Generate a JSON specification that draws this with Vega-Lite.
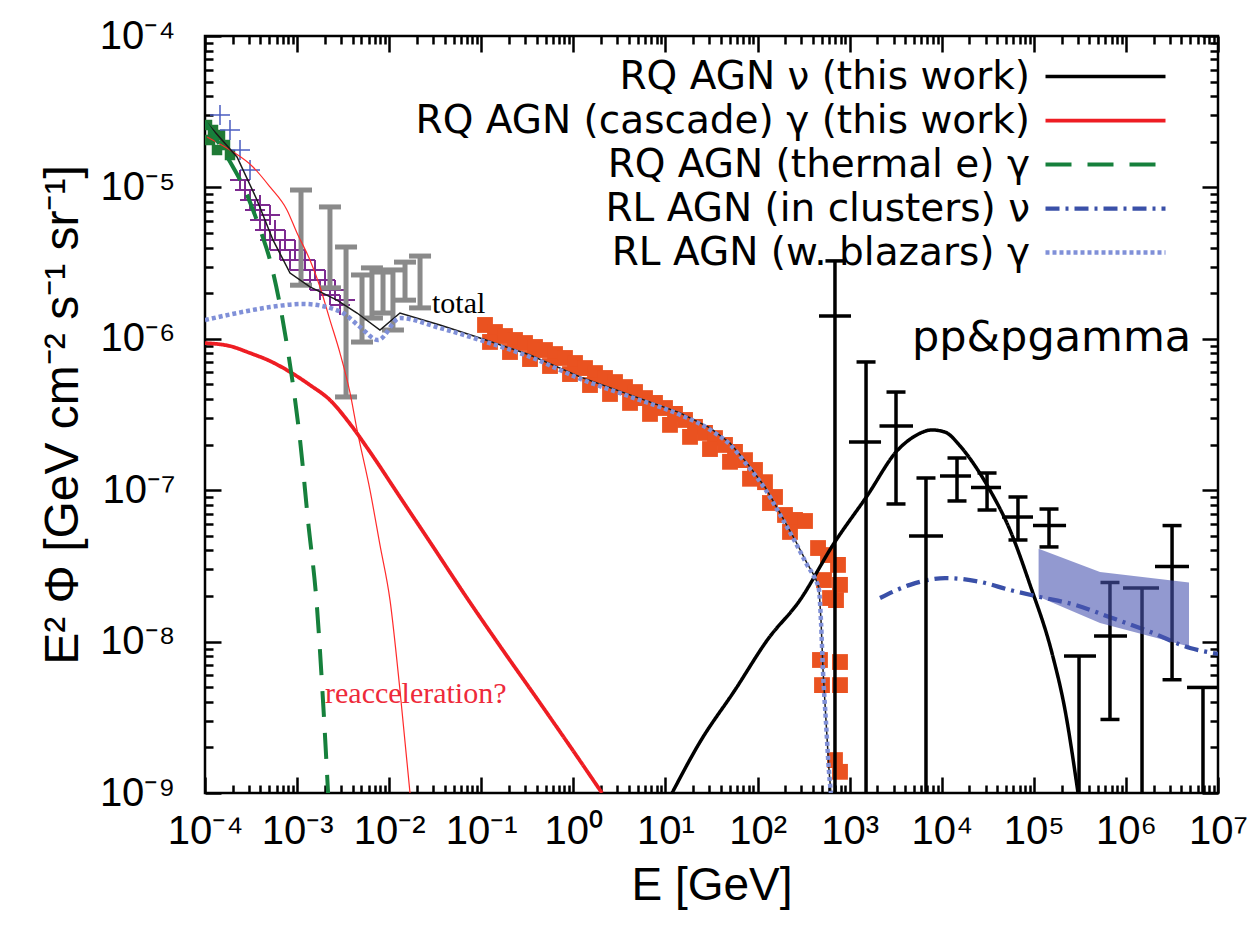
{
  "$schema": "https://vega.github.io/schema/vega-lite/v6.json",
  "width": 1013,
  "height": 757,
  "autosize": {"type": "none"},
  "padding": {"left": 205, "top": 36, "right": 33, "bottom": 132},
  "background": "white",
  "config": {"view": {"stroke": "#000", "strokeWidth": 2.5}},
  "datasets": {
    "green": [
      {"E": 1.051e-4, "F": 2.583e-5}, {"E": 1.221e-4, "F": 2.394e-5}, {"E": 1.133e-4, "F": 2.056e-5},
      {"E": 1.455e-4, "F": 2.219e-5}, {"E": 1.649e-4, "F": 1.905e-5}, {"E": 1.35e-4, "F": 1.766e-5},
      {"E": 1.868e-4, "F": 1.637e-5}
    ],
    "blue": [
      {"E": 1.455e-4, "Elo": 1.133e-4, "Ehi": 1.868e-4, "F": 3.008e-5, "Flo": 2.583e-5, "Fhi": 3.502e-5},
      {"E": 1.868e-4, "Elo": 1.455e-4, "Ehi": 2.4e-4, "F": 2.394e-5, "Flo": 2.056e-5, "Fhi": 2.787e-5},
      {"E": 2.4e-4, "Elo": 1.868e-4, "Ehi": 3.083e-4, "F": 1.766e-5, "Flo": 1.517e-5, "Fhi": 2.056e-5},
      {"E": 3.083e-4, "Elo": 2.4e-4, "Ehi": 3.955e-4, "F": 1.303e-5, "Flo": 1.119e-5, "Fhi": 1.517e-5}
    ],
    "purple": [
      {"E": 2.4e-4, "Elo": 1.868e-4, "Ehi": 3.083e-4, "F": 1.119e-5, "Flo": 9.612e-6, "Fhi": 1.303e-5},
      {"E": 2.719e-4, "Elo": 2.118e-4, "Ehi": 3.491e-4, "F": 9.612e-6, "Flo": 8.254e-6, "Fhi": 1.119e-5},
      {"E": 3.083e-4, "Elo": 2.4e-4, "Ehi": 3.955e-4, "F": 8.254e-6, "Flo": 7.091e-6, "Fhi": 9.612e-6},
      {"E": 3.491e-4, "Elo": 2.719e-4, "Ehi": 4.482e-4, "F": 7.091e-6, "Flo": 6.091e-6, "Fhi": 8.254e-6},
      {"E": 3.955e-4, "Elo": 3.083e-4, "Ehi": 5.079e-4, "F": 7.65e-6, "Flo": 6.572e-6, "Fhi": 8.907e-6},
      {"E": 3.955e-4, "Elo": 3.083e-4, "Ehi": 5.079e-4, "F": 6.091e-6, "Flo": 5.231e-6, "Fhi": 7.091e-6},
      {"E": 4.482e-4, "Elo": 3.491e-4, "Ehi": 5.756e-4, "F": 5.231e-6, "Flo": 4.494e-6, "Fhi": 6.091e-6},
      {"E": 5.079e-4, "Elo": 3.955e-4, "Ehi": 6.523e-4, "F": 6.572e-6, "Flo": 5.645e-6, "Fhi": 7.65e-6},
      {"E": 5.079e-4, "Elo": 3.955e-4, "Ehi": 6.523e-4, "F": 4.494e-6, "Flo": 3.859e-6, "Fhi": 5.231e-6},
      {"E": 5.756e-4, "Elo": 4.482e-4, "Ehi": 7.391e-4, "F": 5.231e-6, "Flo": 4.494e-6, "Fhi": 6.091e-6},
      {"E": 6.523e-4, "Elo": 5.079e-4, "Ehi": 8.375e-4, "F": 3.859e-6, "Flo": 3.315e-6, "Fhi": 4.494e-6},
      {"E": 7.391e-4, "Elo": 5.756e-4, "Ehi": 9.491e-4, "F": 4.494e-6, "Flo": 3.859e-6, "Fhi": 5.231e-6},
      {"E": 8.375e-4, "Elo": 6.523e-4, "Ehi": 1.0755e-3, "F": 3.315e-6, "Flo": 2.847e-6, "Fhi": 3.859e-6},
      {"E": 9.491e-4, "Elo": 7.391e-4, "Ehi": 1.219e-3, "F": 3.859e-6, "Flo": 3.315e-6, "Fhi": 4.494e-6},
      {"E": 1.0755e-3, "Elo": 8.375e-4, "Ehi": 1.381e-3, "F": 2.847e-6, "Flo": 2.445e-6, "Fhi": 3.315e-6},
      {"E": 1.219e-3, "Elo": 9.491e-4, "Ehi": 1.565e-3, "F": 3.315e-6, "Flo": 2.847e-6, "Fhi": 3.859e-6},
      {"E": 1.381e-3, "Elo": 1.0755e-3, "Ehi": 1.774e-3, "F": 2.445e-6, "Flo": 2.1e-6, "Fhi": 2.847e-6},
      {"E": 1.565e-3, "Elo": 1.219e-3, "Ehi": 2.01e-3, "F": 2.847e-6, "Flo": 2.445e-6, "Fhi": 3.315e-6},
      {"E": 1.774e-3, "Elo": 1.381e-3, "Ehi": 2.277e-3, "F": 2.1e-6, "Flo": 1.804e-6, "Fhi": 2.445e-6},
      {"E": 2.01e-3, "Elo": 1.565e-3, "Ehi": 2.58e-3, "F": 2.445e-6, "Flo": 2.1e-6, "Fhi": 2.847e-6},
      {"E": 2.277e-3, "Elo": 1.774e-3, "Ehi": 2.924e-3, "F": 1.946e-6, "Flo": 1.672e-6, "Fhi": 2.266e-6},
      {"E": 2.58e-3, "Elo": 2.01e-3, "Ehi": 3.314e-3, "F": 2.1e-6, "Flo": 1.804e-6, "Fhi": 2.445e-6},
      {"E": 2.924e-3, "Elo": 2.277e-3, "Ehi": 3.755e-3, "F": 1.672e-6, "Flo": 1.436e-6, "Fhi": 1.946e-6},
      {"E": 3.314e-3, "Elo": 2.58e-3, "Ehi": 4.255e-3, "F": 1.804e-6, "Flo": 1.549e-6, "Fhi": 2.1e-6}
    ],
    "gray": [
      {"E": 1.103e-3, "lo": 2.26e-6, "hi": 9.61e-6},
      {"E": 2.275e-3, "lo": 2.17e-6, "hi": 7.43e-6},
      {"E": 3.4e-3, "lo": 4.13e-7, "hi": 4.04e-6},
      {"E": 5.07e-3, "lo": 9.52e-7, "hi": 2.64e-6},
      {"E": 6.5e-3, "lo": 1.371e-6, "hi": 2.94e-6},
      {"E": 8.57e-3, "lo": 1.48e-6, "hi": 2.76e-6},
      {"E": 1.099e-2, "lo": 1.143e-6, "hi": 2.85e-6},
      {"E": 1.486e-2, "lo": 1.8e-6, "hi": 3.21e-6},
      {"E": 2.163e-2, "lo": 1.6e-6, "hi": 3.52e-6}
    ],
    "orange": [
      {"E": 0.1098, "F": 1.234e-6}, {"E": 0.1409, "F": 1.109e-6}, {"E": 0.181, "F": 1.043e-6},
      {"E": 0.2324, "F": 9.82e-7}, {"E": 0.2985, "F": 9.38e-7}, {"E": 0.3833, "F": 8.83e-7},
      {"E": 0.492, "F": 8.43e-7}, {"E": 0.632, "F": 7.93e-7}, {"E": 0.811, "F": 7.47e-7},
      {"E": 1.042, "F": 6.92e-7}, {"E": 1.338, "F": 6.41e-7}, {"E": 1.718, "F": 5.94e-7},
      {"E": 2.206, "F": 5.51e-7}, {"E": 2.833, "F": 5.18e-7}, {"E": 3.638, "F": 4.8e-7},
      {"E": 4.672, "F": 4.45e-7}, {"E": 5.998, "F": 4.06e-7}, {"E": 7.7, "F": 3.77e-7},
      {"E": 9.89, "F": 3.49e-7}, {"E": 12.7, "F": 3.19e-7}, {"E": 16.31, "F": 2.91e-7},
      {"E": 20.94, "F": 2.62e-7}, {"E": 26.89, "F": 2.39e-7}, {"E": 34.52, "F": 2.21e-7},
      {"E": 44.33, "F": 1.99e-7}, {"E": 56.93, "F": 1.79e-7}, {"E": 73.1, "F": 1.58e-7},
      {"E": 93.85, "F": 1.36e-7}, {"E": 120.5, "F": 1.13e-7}, {"E": 154.8, "F": 9.02e-8},
      {"E": 198.7, "F": 6.86e-8}, {"E": 255.2, "F": 6.36e-8}, {"E": 327.7, "F": 6.26e-8},
      {"E": 0.1244, "F": 9.53e-7}, {"E": 0.2051, "F": 8.18e-7}, {"E": 0.3382, "F": 7.35e-7},
      {"E": 0.5577, "F": 6.61e-7}, {"E": 0.9194, "F": 5.85e-7}, {"E": 1.516, "F": 4.95e-7},
      {"E": 2.5, "F": 4.32e-7}, {"E": 4.123, "F": 3.77e-7}, {"E": 6.795, "F": 3.19e-7},
      {"E": 11.2, "F": 2.7e-7}, {"E": 18.48, "F": 2.25e-7}, {"E": 30.46, "F": 1.87e-7},
      {"E": 50.22, "F": 1.54e-7}, {"E": 82.83, "F": 1.19e-7}, {"E": 136.5, "F": 8.23e-8},
      {"E": 225.1, "F": 5.3e-8},
      {"E": 453.9, "F": 4.15e-8}, {"E": 582.4, "F": 3.73e-8}, {"E": 747.5, "F": 3.21e-8},
      {"E": 526.8, "F": 2.55e-8}, {"E": 786, "F": 2.37e-8}, {"E": 612.4, "F": 1.94e-8},
      {"E": 711.2, "F": 1.88e-8}, {"E": 476.4, "F": 7.56e-9}, {"E": 786, "F": 7.33e-9},
      {"E": 501, "F": 5.16e-9}, {"E": 786, "F": 5.16e-9}, {"E": 693.4, "F": 1.65e-9},
      {"E": 786, "F": 1.38e-9}
    ],
    "redthin": [
      {"E": 1.051e-4, "F": 2.153e-5}, {"E": 1.868e-4, "F": 1.766e-5}, {"E": 3.32e-4, "F": 1.364e-5},
      {"E": 5.08e-4, "F": 1.007e-5}, {"E": 7.76e-4, "F": 7.1e-6}, {"E": 9.98e-4, "F": 5.0e-6},
      {"E": 1.38e-3, "F": 3.31e-6}, {"E": 1.775e-3, "F": 2.2e-6}, {"E": 2.275e-3, "F": 1.33e-6},
      {"E": 2.924e-3, "F": 8.05e-7}, {"E": 3.76e-3, "F": 4.39e-7}, {"E": 4.48e-3, "F": 2.5e-7},
      {"E": 6.19e-3, "F": 1.0e-7}, {"E": 7.94e-3, "F": 4.35e-8}, {"E": 1.021e-2, "F": 1.88e-8},
      {"E": 1.309e-2, "F": 4.79e-9}, {"E": 1.683e-2, "F": 1.0e-9}
    ],
    "total": [
      {"E": 1.051e-4, "F": 2.66e-5}, {"E": 2.226e-4, "F": 1.589e-5}, {"E": 3.67e-4, "F": 8.26e-6},
      {"E": 5.47e-4, "F": 4.5e-6}, {"E": 8.38e-4, "F": 2.72e-6}, {"E": 1.38e-3, "F": 2.2e-6},
      {"E": 2.71e-3, "F": 1.8e-6}, {"E": 4.48e-3, "F": 1.48e-6}, {"E": 7.94e-3, "F": 1.143e-6},
      {"E": 1.309e-2, "F": 1.48e-6}, {"E": 3.56e-2, "F": 1.233e-6}, {"E": 9.68e-2, "F": 1.012e-6},
      {"E": 0.338, "F": 7.81e-7}, {"E": 1.18, "F": 5.6e-7}, {"E": 4.12, "F": 4.26e-7},
      {"E": 14.39, "F": 3.24e-7}, {"E": 30.5, "F": 2.58e-7}, {"E": 50.2, "F": 2.05e-7},
      {"E": 76.9, "F": 1.51e-7}, {"E": 120.5, "F": 1.05e-7}, {"E": 175.4, "F": 7.07e-8},
      {"E": 255.3, "F": 4.69e-8}, {"E": 344.4, "F": 3.3e-8}, {"E": 420.7, "F": 2.67e-8},
      {"E": 464.5, "F": 2.26e-8}, {"E": 488.7, "F": 1.39e-8}, {"E": 514.0, "F": 6.49e-9},
      {"E": 553.4, "F": 3.03e-9}, {"E": 597.0, "F": 1.42e-9}, {"E": 626.6, "F": 1.0e-9}
    ],
    "models": [
      {"s": "RQ AGN ν (this work)", "E": 11.8, "F": 1.0e-9},
      {"s": "RQ AGN ν (this work)", "E": 23.7, "F": 2.17e-9},
      {"s": "RQ AGN ν (this work)", "E": 56.9, "F": 4.79e-9},
      {"s": "RQ AGN ν (this work)", "E": 130, "F": 1.04e-8},
      {"s": "RQ AGN ν (this work)", "E": 289, "F": 1.88e-8},
      {"s": "RQ AGN ν (this work)", "E": 659, "F": 4.35e-8},
      {"s": "RQ AGN ν (this work)", "E": 1545, "F": 9.16e-8},
      {"s": "RQ AGN ν (this work)", "E": 3350, "F": 1.85e-7},
      {"s": "RQ AGN ν (this work)", "E": 5130, "F": 2.28e-7},
      {"s": "RQ AGN ν (this work)", "E": 7830, "F": 2.5e-7},
      {"s": "RQ AGN ν (this work)", "E": 10860, "F": 2.42e-7},
      {"s": "RQ AGN ν (this work)", "E": 15810, "F": 1.96e-7},
      {"s": "RQ AGN ν (this work)", "E": 22960, "F": 1.45e-7},
      {"s": "RQ AGN ν (this work)", "E": 33420, "F": 1.0e-7},
      {"s": "RQ AGN ν (this work)", "E": 55080, "F": 5.46e-8},
      {"s": "RQ AGN ν (this work)", "E": 91000, "F": 2.37e-8},
      {"s": "RQ AGN ν (this work)", "E": 157400, "F": 8.41e-9},
      {"s": "RQ AGN ν (this work)", "E": 218300, "F": 3.53e-9},
      {"s": "RQ AGN ν (this work)", "E": 302000, "F": 1.0e-9},
      {"s": "RQ AGN (cascade) γ (this work)", "E": 1.0e-4, "F": 9.37e-7},
      {"s": "RQ AGN (cascade) γ (this work)", "E": 1.868e-4, "F": 8.95e-7},
      {"s": "RQ AGN (cascade) γ (this work)", "E": 3.083e-4, "F": 8.05e-7},
      {"s": "RQ AGN (cascade) γ (this work)", "E": 5.08e-4, "F": 7.13e-7},
      {"s": "RQ AGN (cascade) γ (this work)", "E": 8.38e-4, "F": 6.04e-7},
      {"s": "RQ AGN (cascade) γ (this work)", "E": 1.38e-3, "F": 4.95e-7},
      {"s": "RQ AGN (cascade) γ (this work)", "E": 2.275e-3, "F": 3.94e-7},
      {"s": "RQ AGN (cascade) γ (this work)", "E": 3.76e-3, "F": 2.74e-7},
      {"s": "RQ AGN (cascade) γ (this work)", "E": 6.19e-3, "F": 1.79e-7},
      {"s": "RQ AGN (cascade) γ (this work)", "E": 1.309e-2, "F": 9.02e-8},
      {"s": "RQ AGN (cascade) γ (this work)", "E": 2.77e-2, "F": 4.55e-8},
      {"s": "RQ AGN (cascade) γ (this work)", "E": 7.0e-2, "F": 1.94e-8},
      {"s": "RQ AGN (cascade) γ (this work)", "E": 0.1596, "F": 9.35e-9},
      {"s": "RQ AGN (cascade) γ (this work)", "E": 0.4345, "F": 3.93e-9},
      {"s": "RQ AGN (cascade) γ (this work)", "E": 0.918, "F": 2.04e-9},
      {"s": "RQ AGN (cascade) γ (this work)", "E": 2.046, "F": 1.0e-9},
      {"s": "RQ AGN (thermal e) γ", "E": 1.0e-4, "F": 2.7e-5},
      {"s": "RQ AGN (thermal e) γ", "E": 1.384e-4, "F": 2.0e-5},
      {"s": "RQ AGN (thermal e) γ", "E": 2.014e-4, "F": 1.364e-5},
      {"s": "RQ AGN (thermal e) γ", "E": 2.716e-4, "F": 9.61e-6},
      {"s": "RQ AGN (thermal e) γ", "E": 3.32e-4, "F": 7.1e-6},
      {"s": "RQ AGN (thermal e) γ", "E": 4.16e-4, "F": 4.85e-6},
      {"s": "RQ AGN (thermal e) γ", "E": 5.08e-4, "F": 3.31e-6},
      {"s": "RQ AGN (thermal e) γ", "E": 6.52e-4, "F": 1.67e-6},
      {"s": "RQ AGN (thermal e) γ", "E": 7.76e-4, "F": 9.1e-7},
      {"s": "RQ AGN (thermal e) γ", "E": 9.25e-4, "F": 4.46e-7},
      {"s": "RQ AGN (thermal e) γ", "E": 1.076e-3, "F": 2.15e-7},
      {"s": "RQ AGN (thermal e) γ", "E": 1.312e-3, "F": 6.35e-8},
      {"s": "RQ AGN (thermal e) γ", "E": 1.644e-3, "F": 1.69e-8},
      {"s": "RQ AGN (thermal e) γ", "E": 1.91e-3, "F": 4.11e-9},
      {"s": "RQ AGN (thermal e) γ", "E": 2.17e-3, "F": 1.0e-9},
      {"s": "RL AGN (in clusters) ν", "E": 2138, "F": 1.94e-8},
      {"s": "RL AGN (in clusters) ν", "E": 4529, "F": 2.37e-8},
      {"s": "RL AGN (in clusters) ν", "E": 10860, "F": 2.63e-8},
      {"s": "RL AGN (in clusters) ν", "E": 26060, "F": 2.48e-8},
      {"s": "RL AGN (in clusters) ν", "E": 55210, "F": 2.19e-8},
      {"s": "RL AGN (in clusters) ν", "E": 116700, "F": 1.97e-8},
      {"s": "RL AGN (in clusters) ν", "E": 280000, "F": 1.75e-8},
      {"s": "RL AGN (in clusters) ν", "E": 671000, "F": 1.45e-8},
      {"s": "RL AGN (in clusters) ν", "E": 1827000, "F": 1.16e-8},
      {"s": "RL AGN (in clusters) ν", "E": 4970000, "F": 9.07e-9},
      {"s": "RL AGN (in clusters) ν", "E": 10000000, "F": 8.3e-9},
      {"s": "RL AGN (w. blazars) γ", "E": 1.0e-4, "F": 1.33e-6},
      {"s": "RL AGN (w. blazars) γ", "E": 2.226e-4, "F": 1.48e-6},
      {"s": "RL AGN (w. blazars) γ", "E": 5.08e-4, "F": 1.62e-6},
      {"s": "RL AGN (w. blazars) γ", "E": 1.159e-3, "F": 1.7e-6},
      {"s": "RL AGN (w. blazars) γ", "E": 2.275e-3, "F": 1.6e-6},
      {"s": "RL AGN (w. blazars) γ", "E": 3.15e-3, "F": 1.48e-6},
      {"s": "RL AGN (w. blazars) γ", "E": 4.82e-3, "F": 1.197e-6},
      {"s": "RL AGN (w. blazars) γ", "E": 7.57e-3, "F": 9.82e-7},
      {"s": "RL AGN (w. blazars) γ", "E": 1.309e-2, "F": 1.371e-6},
      {"s": "RL AGN (w. blazars) γ", "E": 3.56e-2, "F": 1.178e-6},
      {"s": "RL AGN (w. blazars) γ", "E": 9.68e-2, "F": 9.82e-7},
      {"s": "RL AGN (w. blazars) γ", "E": 0.338, "F": 7.6e-7},
      {"s": "RL AGN (w. blazars) γ", "E": 1.18, "F": 5.45e-7},
      {"s": "RL AGN (w. blazars) γ", "E": 4.12, "F": 4.15e-7},
      {"s": "RL AGN (w. blazars) γ", "E": 14.39, "F": 3.15e-7},
      {"s": "RL AGN (w. blazars) γ", "E": 30.5, "F": 2.51e-7},
      {"s": "RL AGN (w. blazars) γ", "E": 50.2, "F": 2.0e-7},
      {"s": "RL AGN (w. blazars) γ", "E": 76.9, "F": 1.47e-7},
      {"s": "RL AGN (w. blazars) γ", "E": 120.5, "F": 1.02e-7},
      {"s": "RL AGN (w. blazars) γ", "E": 175.4, "F": 6.9e-8},
      {"s": "RL AGN (w. blazars) γ", "E": 255.3, "F": 4.57e-8},
      {"s": "RL AGN (w. blazars) γ", "E": 344.4, "F": 3.22e-8},
      {"s": "RL AGN (w. blazars) γ", "E": 420.7, "F": 2.6e-8},
      {"s": "RL AGN (w. blazars) γ", "E": 464.5, "F": 2.2e-8},
      {"s": "RL AGN (w. blazars) γ", "E": 488.7, "F": 1.36e-8},
      {"s": "RL AGN (w. blazars) γ", "E": 514.0, "F": 6.3e-9},
      {"s": "RL AGN (w. blazars) γ", "E": 553.4, "F": 2.95e-9},
      {"s": "RL AGN (w. blazars) γ", "E": 597.0, "F": 1.38e-9},
      {"s": "RL AGN (w. blazars) γ", "E": 626.6, "F": 1.0e-9}
    ],
    "ice": [
      {"E": 693, "Elo": 465, "Ehi": 1035, "F": 1.415e-6, "Flo": 1e-9, "Fhi": 3.27e-6, "capLo": null, "capHi": 3.27e-6},
      {"E": 1507, "Elo": 984, "Ehi": 2193, "F": 2.08e-7, "Flo": 1e-9, "Fhi": 7.03e-7, "capLo": null, "capHi": 7.03e-7},
      {"E": 3188, "Elo": 2110, "Ehi": 4876, "F": 2.65e-7, "Flo": 8.11e-8, "Fhi": 4.45e-7, "capLo": 8.11e-8, "capHi": 4.45e-7},
      {"E": 6745, "Elo": 4416, "Ehi": 10330, "F": 4.98e-8, "Flo": 1e-9, "Fhi": 1.204e-7, "capLo": null, "capHi": 1.204e-7},
      {"E": 14650, "Elo": 9575, "Ehi": 20800, "F": 1.241e-7, "Flo": 8.49e-8, "Fhi": 1.632e-7, "capLo": 8.49e-8, "capHi": 1.632e-7},
      {"E": 31050, "Elo": 20800, "Ehi": 44060, "F": 1.042e-7, "Flo": 7.4e-8, "Fhi": 1.299e-7, "capLo": 7.4e-8, "capHi": 1.299e-7},
      {"E": 67300, "Elo": 45190, "Ehi": 97950, "F": 6.65e-8, "Flo": 4.69e-8, "Fhi": 9.02e-8, "capLo": 4.69e-8, "capHi": 9.02e-8},
      {"E": 146200, "Elo": 97950, "Ehi": 223900, "F": 5.84e-8, "Flo": 4.22e-8, "Fhi": 7.51e-8, "capLo": 4.22e-8, "capHi": 7.51e-8},
      {"E": 309700, "Elo": 212800, "Ehi": 473200, "F": 8.03e-9, "Flo": 1e-9, "Fhi": 8.03e-9, "capLo": null, "capHi": null},
      {"E": 671400, "Elo": 450800, "Ehi": 1028000, "F": 1.089e-8, "Flo": 3.06e-9, "Fhi": 2.457e-8, "capLo": 3.06e-9, "capHi": 2.457e-8},
      {"E": 1496000, "Elo": 930600, "Ehi": 2287000, "F": 2.26e-8, "Flo": 1e-9, "Fhi": 2.26e-8, "capLo": null, "capHi": null},
      {"E": 3170000, "Elo": 2070000, "Ehi": 4842000, "F": 3.13e-8, "Flo": 5.6e-9, "Fhi": 5.84e-8, "capLo": 5.6e-9, "capHi": 5.84e-8},
      {"E": 6870000, "Elo": 4610000, "Ehi": 10000000, "F": 4.98e-9, "Flo": 1e-9, "Fhi": 4.98e-9, "capLo": null, "capHi": null}
    ],
    "band": [
      {"E": 112700, "lo": 1.977e-8, "hi": 4.11e-8},
      {"E": 523600, "lo": 1.327e-8, "hi": 2.88e-8},
      {"E": 4842000, "lo": 9.27e-9, "hi": 2.457e-8}
    ]
  },
  "layer": [
    {
      "data": {"name": "green"},
      "mark": {"type": "square", "filled": true, "color": "#1f7a35", "size": 110, "opacity": 1, "clip": true},
      "encoding": {
        "x": {"field": "E", "type": "quantitative", "scale": {"type": "log", "domain": [0.0001, 10000000], "nice": false},
          "axis": {"orient": "bottom", "grid": false, "domain": false,
            "values": [0.0001,0.0002,0.0003,0.0004,0.0005,0.0006,0.0007,0.0008,0.0009,0.001,0.002,0.003,0.004,0.005,0.006,0.007,0.008,0.009,0.01,0.02,0.03,0.04,0.05,0.06,0.07,0.08,0.09,0.1,0.2,0.3,0.4,0.5,0.6,0.7,0.8,0.9,1,2,3,4,5,6,7,8,9,10,20,30,40,50,60,70,80,90,100,200,300,400,500,600,700,800,900,1000,2000,3000,4000,5000,6000,7000,8000,9000,10000,20000,30000,40000,50000,60000,70000,80000,90000,100000,200000,300000,400000,500000,600000,700000,800000,900000,1000000,2000000,3000000,4000000,5000000,6000000,7000000,8000000,9000000,10000000],
            "labelExpr": "abs(log(datum.value)/LN10 - round(log(datum.value)/LN10)) < 0.001 ? '10' + ['⁻⁴','⁻³','⁻²','⁻¹','⁰','¹','²','³','⁴','⁵','⁶','⁷'][round(log(datum.value)/LN10)+4] : ''",
            "tickSize": {"condition": {"test": "abs(log(datum.value)/LN10 - round(log(datum.value)/LN10)) < 0.001", "value": -16}, "value": -8},
            "tickWidth": 2.5, "tickColor": "#000",
            "labelFont": "Liberation Sans", "labelFontSize": 40, "labelColor": "#000", "labelPadding": 34,
            "labelOverlap": false, "labelFlush": false, "labelBound": false,
            "title": "E [GeV]", "titleFont": "Liberation Sans", "titleFontSize": 46, "titleFontWeight": "normal", "titleColor": "#000", "titlePadding": 4}},
        "y": {"field": "F", "type": "quantitative", "scale": {"type": "log", "domain": [1e-9, 0.0001], "nice": false},
          "axis": {"orient": "left", "grid": false, "domain": false,
            "values": [1e-9,2e-9,3e-9,4e-9,5e-9,6e-9,7e-9,8e-9,9e-9,1e-8,2e-8,3e-8,4e-8,5e-8,6e-8,7e-8,8e-8,9e-8,1e-7,2e-7,3e-7,4e-7,5e-7,6e-7,7e-7,8e-7,9e-7,1e-6,2e-6,3e-6,4e-6,5e-6,6e-6,7e-6,8e-6,9e-6,1e-5,2e-5,3e-5,4e-5,5e-5,6e-5,7e-5,8e-5,9e-5,1e-4],
            "labelExpr": "abs(log(datum.value)/LN10 - round(log(datum.value)/LN10)) < 0.001 ? '10' + ['⁻⁹','⁻⁸','⁻⁷','⁻⁶','⁻⁵','⁻⁴'][round(log(datum.value)/LN10)+9] : ''",
            "tickSize": {"condition": {"test": "abs(log(datum.value)/LN10 - round(log(datum.value)/LN10)) < 0.001", "value": -16}, "value": -8},
            "tickWidth": 2.5, "tickColor": "#000",
            "labelFont": "Liberation Sans", "labelFontSize": 40, "labelColor": "#000", "labelPadding": 46,
            "labelOverlap": false, "labelFlush": false, "labelBound": false,
            "title": "E² Φ [GeV cm⁻² s⁻¹ sr⁻¹]", "titleFont": "Liberation Sans", "titleFontSize": 48, "titleFontWeight": "normal", "titleColor": "#000", "titlePadding": 12}}
      }
    },
    {
      "data": {"name": "blue"},
      "mark": {"type": "rule", "color": "#4a5cc0", "strokeWidth": 1.5, "clip": true},
      "encoding": {
        "x": {"field": "Elo", "type": "quantitative", "scale": {"type": "log", "domain": [0.0001, 10000000], "nice": false},
          "axis": {"orient": "top", "grid": false, "domain": false, "labels": false, "title": null,
            "values": [0.0001,0.0002,0.0003,0.0004,0.0005,0.0006,0.0007,0.0008,0.0009,0.001,0.002,0.003,0.004,0.005,0.006,0.007,0.008,0.009,0.01,0.02,0.03,0.04,0.05,0.06,0.07,0.08,0.09,0.1,0.2,0.3,0.4,0.5,0.6,0.7,0.8,0.9,1,2,3,4,5,6,7,8,9,10,20,30,40,50,60,70,80,90,100,200,300,400,500,600,700,800,900,1000,2000,3000,4000,5000,6000,7000,8000,9000,10000,20000,30000,40000,50000,60000,70000,80000,90000,100000,200000,300000,400000,500000,600000,700000,800000,900000,1000000,2000000,3000000,4000000,5000000,6000000,7000000,8000000,9000000,10000000],
            "tickSize": {"condition": {"test": "abs(log(datum.value)/LN10 - round(log(datum.value)/LN10)) < 0.001", "value": -16}, "value": -8},
            "tickWidth": 2.5, "tickColor": "#000"}},
        "x2": {"field": "Ehi"},
        "y": {"field": "F", "type": "quantitative", "scale": {"type": "log", "domain": [1e-9, 0.0001], "nice": false},
          "axis": {"orient": "right", "grid": false, "domain": false, "labels": false, "title": null,
            "values": [1e-9,2e-9,3e-9,4e-9,5e-9,6e-9,7e-9,8e-9,9e-9,1e-8,2e-8,3e-8,4e-8,5e-8,6e-8,7e-8,8e-8,9e-8,1e-7,2e-7,3e-7,4e-7,5e-7,6e-7,7e-7,8e-7,9e-7,1e-6,2e-6,3e-6,4e-6,5e-6,6e-6,7e-6,8e-6,9e-6,1e-5,2e-5,3e-5,4e-5,5e-5,6e-5,7e-5,8e-5,9e-5,1e-4],
            "tickSize": {"condition": {"test": "abs(log(datum.value)/LN10 - round(log(datum.value)/LN10)) < 0.001", "value": -16}, "value": -8},
            "tickWidth": 2.5, "tickColor": "#000"}}
      }
    },
    {
      "data": {"name": "blue"},
      "mark": {"type": "rule", "color": "#4a5cc0", "strokeWidth": 1.5, "clip": true},
      "encoding": {
        "x": {"field": "E", "type": "quantitative", "scale": {"type": "log", "domain": [0.0001, 10000000], "nice": false}, "axis": null},
        "y": {"field": "Flo", "type": "quantitative", "scale": {"type": "log", "domain": [1e-9, 0.0001], "nice": false}, "axis": null},
        "y2": {"field": "Fhi"}
      }
    },
    {
      "data": {"name": "purple"},
      "mark": {"type": "rule", "color": "#7d2a90", "strokeWidth": 2, "clip": true},
      "encoding": {
        "x": {"field": "Elo", "type": "quantitative", "scale": {"type": "log", "domain": [0.0001, 10000000], "nice": false}, "axis": null},
        "x2": {"field": "Ehi"},
        "y": {"field": "F", "type": "quantitative", "scale": {"type": "log", "domain": [1e-9, 0.0001], "nice": false}, "axis": null}
      }
    },
    {
      "data": {"name": "purple"},
      "mark": {"type": "rule", "color": "#7d2a90", "strokeWidth": 2, "clip": true},
      "encoding": {
        "x": {"field": "E", "type": "quantitative", "scale": {"type": "log", "domain": [0.0001, 10000000], "nice": false}, "axis": null},
        "y": {"field": "Flo", "type": "quantitative", "scale": {"type": "log", "domain": [1e-9, 0.0001], "nice": false}, "axis": null},
        "y2": {"field": "Fhi"}
      }
    },
    {
      "data": {"name": "gray"},
      "mark": {"type": "rule", "color": "#8a8a8a", "strokeWidth": 5, "clip": true},
      "encoding": {
        "x": {"field": "E", "type": "quantitative", "scale": {"type": "log", "domain": [0.0001, 10000000], "nice": false}, "axis": null},
        "y": {"field": "lo", "type": "quantitative", "scale": {"type": "log", "domain": [1e-9, 0.0001], "nice": false}, "axis": null},
        "y2": {"field": "hi"}
      }
    },
    {
      "data": {"name": "gray"},
      "mark": {"type": "tick", "orient": "horizontal", "size": 22, "thickness": 5, "color": "#8a8a8a", "opacity": 1, "clip": true},
      "encoding": {
        "x": {"field": "E", "type": "quantitative", "scale": {"type": "log", "domain": [0.0001, 10000000], "nice": false}, "axis": null},
        "y": {"field": "lo", "type": "quantitative", "scale": {"type": "log", "domain": [1e-9, 0.0001], "nice": false}, "axis": null}
      }
    },
    {
      "data": {"name": "gray"},
      "mark": {"type": "tick", "orient": "horizontal", "size": 22, "thickness": 5, "color": "#8a8a8a", "opacity": 1, "clip": true},
      "encoding": {
        "x": {"field": "E", "type": "quantitative", "scale": {"type": "log", "domain": [0.0001, 10000000], "nice": false}, "axis": null},
        "y": {"field": "hi", "type": "quantitative", "scale": {"type": "log", "domain": [1e-9, 0.0001], "nice": false}, "axis": null}
      }
    },
    {
      "data": {"name": "orange"},
      "mark": {"type": "square", "filled": true, "color": "#ea5220", "size": 250, "opacity": 1, "clip": true},
      "encoding": {
        "x": {"field": "E", "type": "quantitative", "scale": {"type": "log", "domain": [0.0001, 10000000], "nice": false}, "axis": null},
        "y": {"field": "F", "type": "quantitative", "scale": {"type": "log", "domain": [1e-9, 0.0001], "nice": false}, "axis": null}
      }
    },
    {
      "data": {"name": "redthin"},
      "mark": {"type": "line", "color": "#ff2a2a", "strokeWidth": 1.2, "interpolate": "monotone", "clip": true},
      "encoding": {
        "x": {"field": "E", "type": "quantitative", "scale": {"type": "log", "domain": [0.0001, 10000000], "nice": false}, "axis": null},
        "y": {"field": "F", "type": "quantitative", "scale": {"type": "log", "domain": [1e-9, 0.0001], "nice": false}, "axis": null}
      }
    },
    {
      "data": {"name": "total"},
      "mark": {"type": "line", "color": "#1a1a1a", "strokeWidth": 1.5, "clip": true},
      "encoding": {
        "x": {"field": "E", "type": "quantitative", "scale": {"type": "log", "domain": [0.0001, 10000000], "nice": false}, "axis": null},
        "y": {"field": "F", "type": "quantitative", "scale": {"type": "log", "domain": [1e-9, 0.0001], "nice": false}, "axis": null}
      }
    },
    {
      "data": {"name": "models"},
      "mark": {"type": "line", "interpolate": "monotone", "clip": true},
      "encoding": {
        "x": {"field": "E", "type": "quantitative", "scale": {"type": "log", "domain": [0.0001, 10000000], "nice": false}, "axis": null},
        "y": {"field": "F", "type": "quantitative", "scale": {"type": "log", "domain": [1e-9, 0.0001], "nice": false}, "axis": null},
        "color": {"field": "s", "type": "nominal",
          "scale": {"domain": ["RQ AGN ν (this work)", "RQ AGN (cascade) γ (this work)", "RQ AGN (thermal e) γ", "RL AGN (in clusters) ν", "RL AGN (w. blazars) γ"],
                    "range": ["#000000", "#ee1d23", "#16803c", "#3a50a8", "#8090d8"]},
          "legend": {"title": null, "orient": "none", "legendX": 881, "legendY": 21, "direction": "vertical",
            "labelFont": "DejaVu Sans", "labelFontSize": 39, "labelColor": "#000", "labelLimit": 2000,
            "labelAlign": "right", "labelOffset": -95, "symbolType": "M-5,0H5", "symbolSize": 576,
            "rowPadding": 4, "padding": 0, "offset": 0}},
        "strokeDash": {"field": "s", "type": "nominal",
          "scale": {"domain": ["RQ AGN ν (this work)", "RQ AGN (cascade) γ (this work)", "RQ AGN (thermal e) γ", "RL AGN (in clusters) ν", "RL AGN (w. blazars) γ"],
                    "range": [[1, 0], [1, 0], [26, 16], [14, 6, 3, 6], [4, 3]]}},
        "strokeWidth": {"field": "s", "type": "nominal",
          "scale": {"domain": ["RQ AGN ν (this work)", "RQ AGN (cascade) γ (this work)", "RQ AGN (thermal e) γ", "RL AGN (in clusters) ν", "RL AGN (w. blazars) γ"],
                    "range": [3.5, 4.5, 4, 4, 1.1]}}
      }
    },
    {
      "data": {"name": "ice"},
      "mark": {"type": "rule", "color": "#000", "strokeWidth": 3.5, "clip": true},
      "encoding": {
        "x": {"field": "E", "type": "quantitative", "scale": {"type": "log", "domain": [0.0001, 10000000], "nice": false}, "axis": null},
        "y": {"field": "Flo", "type": "quantitative", "scale": {"type": "log", "domain": [1e-9, 0.0001], "nice": false}, "axis": null},
        "y2": {"field": "Fhi"}
      }
    },
    {
      "data": {"name": "ice"},
      "mark": {"type": "rule", "color": "#000", "strokeWidth": 3.5, "clip": true},
      "encoding": {
        "x": {"field": "Elo", "type": "quantitative", "scale": {"type": "log", "domain": [0.0001, 10000000], "nice": false}, "axis": null},
        "x2": {"field": "Ehi"},
        "y": {"field": "F", "type": "quantitative", "scale": {"type": "log", "domain": [1e-9, 0.0001], "nice": false}, "axis": null}
      }
    },
    {
      "data": {"name": "ice"},
      "mark": {"type": "tick", "orient": "horizontal", "size": 19, "thickness": 3.5, "color": "#000", "opacity": 1, "clip": true},
      "encoding": {
        "x": {"field": "E", "type": "quantitative", "scale": {"type": "log", "domain": [0.0001, 10000000], "nice": false}, "axis": null},
        "y": {"field": "capLo", "type": "quantitative", "scale": {"type": "log", "domain": [1e-9, 0.0001], "nice": false}, "axis": null}
      }
    },
    {
      "data": {"name": "ice"},
      "mark": {"type": "tick", "orient": "horizontal", "size": 19, "thickness": 3.5, "color": "#000", "opacity": 1, "clip": true},
      "encoding": {
        "x": {"field": "E", "type": "quantitative", "scale": {"type": "log", "domain": [0.0001, 10000000], "nice": false}, "axis": null},
        "y": {"field": "capHi", "type": "quantitative", "scale": {"type": "log", "domain": [1e-9, 0.0001], "nice": false}, "axis": null}
      }
    },
    {
      "data": {"name": "band"},
      "mark": {"type": "area", "color": "#4a55b0", "opacity": 0.6, "clip": true},
      "encoding": {
        "x": {"field": "E", "type": "quantitative", "scale": {"type": "log", "domain": [0.0001, 10000000], "nice": false}, "axis": null},
        "y": {"field": "lo", "type": "quantitative", "scale": {"type": "log", "domain": [1e-9, 0.0001], "nice": false}, "axis": null},
        "y2": {"field": "hi"}
      }
    },
    {
      "data": {"values": [{}]},
      "mark": {"type": "text", "text": "total", "font": "Liberation Serif", "fontSize": 30, "align": "left", "baseline": "alphabetic", "color": "#000"},
      "encoding": {
        "x": {"datum": 0.0292, "type": "quantitative", "scale": {"type": "log", "domain": [0.0001, 10000000], "nice": false}, "axis": null},
        "y": {"datum": 1.481e-6, "type": "quantitative", "scale": {"type": "log", "domain": [1e-9, 0.0001], "nice": false}, "axis": null}
      }
    },
    {
      "data": {"values": [{}]},
      "mark": {"type": "text", "text": "reacceleration?", "font": "Liberation Serif", "fontSize": 30, "align": "left", "baseline": "alphabetic", "color": "#ee2a3a"},
      "encoding": {
        "x": {"datum": 0.00201, "type": "quantitative", "scale": {"type": "log", "domain": [0.0001, 10000000], "nice": false}, "axis": null},
        "y": {"datum": 3.93e-9, "type": "quantitative", "scale": {"type": "log", "domain": [1e-9, 0.0001], "nice": false}, "axis": null}
      }
    },
    {
      "data": {"values": [{}]},
      "mark": {"type": "text", "text": "pp&pgamma", "font": "DejaVu Sans", "fontSize": 43, "align": "left", "baseline": "alphabetic", "color": "#000"},
      "encoding": {
        "x": {"datum": 4753, "type": "quantitative", "scale": {"type": "log", "domain": [0.0001, 10000000], "nice": false}, "axis": null},
        "y": {"datum": 8.31e-7, "type": "quantitative", "scale": {"type": "log", "domain": [1e-9, 0.0001], "nice": false}, "axis": null}
      }
    }
  ],
  "resolve": {"axis": {"x": "independent", "y": "independent"}}
}
